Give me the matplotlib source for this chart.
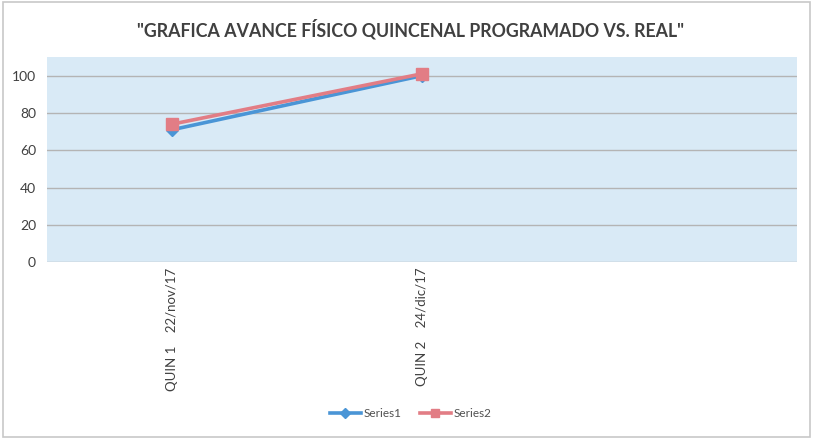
import matplotlib
matplotlib.use("Agg")
import matplotlib.pyplot as plt
import numpy as np
from matplotlib.patches import Rectangle

title = '"GRAFICA AVANCE FÍSICO QUINCENAL PROGRAMADO VS. REAL"'
categories = ["QUIN 1    22/nov/17", "QUIN 2    24/dic/17", ""]
series1 = [71, 100, np.nan]
series2 = [74, 101, np.nan]
yticks = [0, 20, 40, 60, 80, 100]

plt.rcParams['font.family'] = ['Lato', 'DejaVu Sans']

fig = plt.figure(figsize=(8.13, 4.42), dpi=100)
fig.patch.set_facecolor('white')
fig.patches.append(Rectangle((0.004, 0.012), 0.992, 0.984, transform=fig.transFigure,
                             fill=False, edgecolor='#c8c8c8', linewidth=1.2))

ax = fig.add_axes([0.058, 0.407, 0.922, 0.464])
ax.set_facecolor('#d9eaf6')
x = np.arange(len(categories))
ax.plot(x, series1, color='#4a95d6', linewidth=2.6, marker='D', markersize=6,
        label='Series1', zorder=3)
ax.plot(x, series2, color='#e27d85', linewidth=2.6, marker='s', markersize=8,
        label='Series2', zorder=4)

ax.set_xlim(-0.5, len(categories) - 0.5)
ax.set_ylim(0, 110)
ax.set_yticks(yticks)
ax.set_xticks(x)
ax.set_xticklabels(categories, rotation=90, fontsize=9.5, color='#404040')
ax.tick_params(axis='x', length=0, pad=4)
ax.tick_params(axis='y', length=0, labelsize=10, labelcolor='#404040', pad=8)
ax.yaxis.grid(True, color='#b4b4b4', linewidth=1)
ax.set_axisbelow(True)
for s in ax.spines.values():
    s.set_visible(False)

fig.text(0.505, 0.933, title, ha='center', va='center', fontsize=12.8,
         fontweight='bold', color='#404040')

fig.legend(loc='center', bbox_to_anchor=(0.505, 0.065), ncol=2, frameon=False,
           fontsize=8.5, labelcolor='#505050', handlelength=2.6, handletextpad=0.2,
           columnspacing=1.6, markerscale=0.8)

fig.savefig('out.png', dpi=100)
